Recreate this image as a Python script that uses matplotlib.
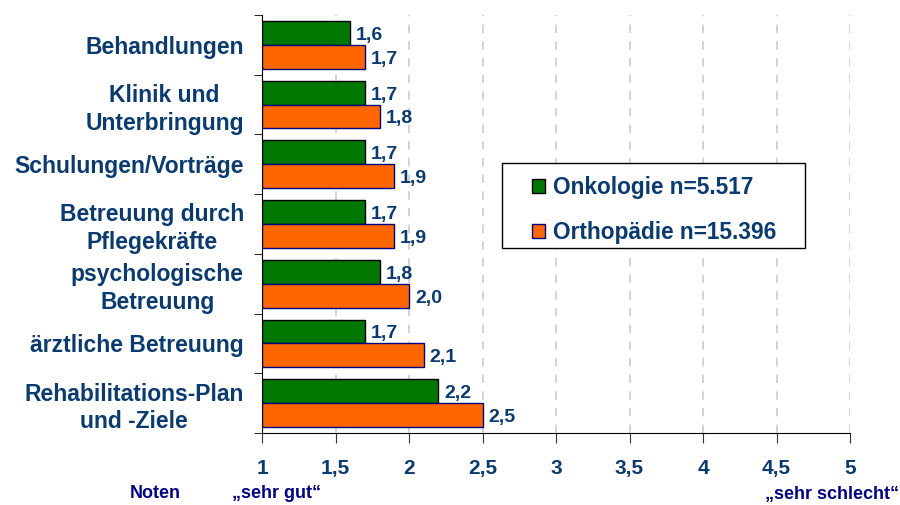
import numpy as np
import matplotlib.pyplot as plt
from matplotlib.patches import Patch, Rectangle

plt.rcParams['font.family'] = ['Liberation Sans', 'DejaVu Sans']
plt.rcParams['font.weight'] = 'bold'

kategorien = ['Behandlungen', 'Klinik und\nUnterbringung', 'Schulungen/Vorträge',
              'Betreuung durch\nPflegekräfte', 'psychologische\nBetreuung',
              'ärztliche Betreuung', 'Rehabilitations-Plan\nund -Ziele']
onkologie = [1.6, 1.7, 1.7, 1.7, 1.8, 1.7, 2.2]
orthopaedie = [1.7, 1.8, 1.9, 1.9, 2.0, 2.1, 2.5]
xticks = [1, 1.5, 2, 2.5, 3, 3.5, 4, 4.5, 5]
xticklabels = ['1', '1,5', '2', '2,5', '3', '3,5', '4', '4,5', '5']

navy = '#0b3a6e'
gruen = '#007800'
orange = '#ff6600'

fig = plt.figure(figsize=(9, 5.05), dpi=100)
ax = fig.add_axes([262 / 900, 1 - 433 / 505, 588 / 900, 418 / 505])

y = np.arange(len(kategorien))
h = 0.4
ax.barh(y - h / 2, [v - 1 for v in onkologie], left=1, height=h,
        color=gruen, edgecolor='black', linewidth=1)
ax.barh(y + h / 2, [v - 1 for v in orthopaedie], left=1, height=h,
        color=orange, edgecolor='#000080', linewidth=1)

for i in range(len(kategorien)):
    ax.text(onkologie[i] + 0.04, y[i] - h / 2 + 0.04, f'{onkologie[i]:.1f}'.replace('.', ','),
            va='center', ha='left', fontsize=14, color=navy, fontweight='bold')
    ax.text(orthopaedie[i] + 0.04, y[i] + h / 2 + 0.04, f'{orthopaedie[i]:.1f}'.replace('.', ','),
            va='center', ha='left', fontsize=14, color=navy, fontweight='bold')

ax.set_xlim(1, 5)
ax.set_ylim(len(kategorien) - 0.5, -0.5)
ax.set_xticks(xticks)
ax.set_xticklabels(xticklabels, fontsize=15, color=navy, fontweight='bold')
ax.tick_params(axis='x', direction='out', length=7, pad=12, color='#333333')

ax.set_yticks(y)
ax.set_yticklabels(kategorien, fontsize=16.5, color=navy, fontweight='bold',
                   ha='right', multialignment='center', linespacing=1.25)
ax.tick_params(axis='y', length=0, pad=13)
ax.set_yticks(np.arange(len(kategorien) + 1) - 0.5, minor=True)
ax.tick_params(axis='y', which='minor', length=6, direction='out', color='black')

ax.grid(axis='x', linestyle=(0, (5, 5)), color='#cccccc', linewidth=1.2)
ax.set_axisbelow(True)
for s in ['top', 'right']:
    ax.spines[s].set_visible(False)
ax.spines['left'].set_color('black')
ax.spines['bottom'].set_color('black')

# Legendenrahmen
ax.add_patch(Rectangle((240 / 588, 185 / 418), 303 / 588, 85 / 418,
                       transform=ax.transAxes, facecolor='white',
                       edgecolor='black', linewidth=1, zorder=4))
handles = [Patch(facecolor=gruen, edgecolor='black', label='Onkologie n=5.517'),
           Patch(facecolor=orange, edgecolor='#000080', label='Orthopädie n=15.396')]
leg = ax.legend(handles=handles, loc='upper left', bbox_to_anchor=(270 / 588, 257 / 418),
                frameon=False, fontsize=16.3,
                handlelength=0.57, handleheight=0.57, labelspacing=0.98,
                borderpad=0, borderaxespad=0, handletextpad=0.35, labelcolor=navy)
leg.set_zorder(5)
for t in leg.get_texts():
    t.set_fontweight('bold')

fig.text(181 / 900, 1 - 494 / 505, 'Noten', ha='right', va='center',
         fontsize=13, color='#000080', fontweight='bold')
fig.text(232 / 900, 1 - 494 / 505, '\u201Esehr gut\u201C', ha='left', va='center',
         fontsize=13, color='#000080', fontweight='bold')
fig.text(899 / 900, 1 - 494 / 505, '\u201Esehr schlecht\u201C', ha='right', va='center',
         fontsize=13, color='#000080', fontweight='bold')

fig.savefig('out.png', dpi=100)
